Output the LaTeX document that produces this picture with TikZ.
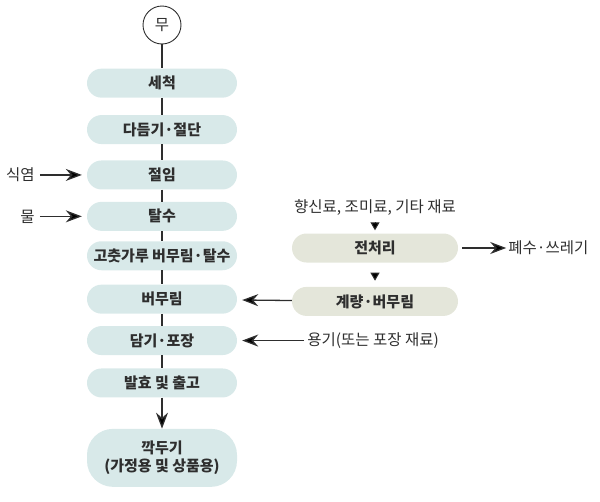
\documentclass[tikz,border=0pt]{standalone}
\usepackage{fontspec}
\setmainfont{Noto Sans CJK KR}
\usepackage{xcolor}
\usetikzlibrary{arrows.meta}
\usetikzlibrary{positioning}
\definecolor{stepblue}{HTML}{D8E9E9}
\definecolor{stepgray}{HTML}{E4E6DA}
\definecolor{lineink}{HTML}{2E2E2E}

\begin{document}
\begin{tikzpicture}[x=1pt,y=-1pt]
			\useasboundingbox (0,0) rectangle (600,501);
			\tikzstyle{every node}=[font=\fontsize{15.5}{17}\selectfont,text=lineink,inner sep=0pt]
			\tikzstyle{procbox}=[rounded corners=14.5pt,fill=stepblue,minimum width=150pt,minimum height=29pt,font=\fontsize{15}{18}\selectfont\bfseries]
			\tikzstyle{prepbox}=[procbox,fill=stepgray,minimum width=166pt]
			
			\node (mu) [draw=lineink,circle,line width=0.9pt,minimum size=38pt] at (162,25) {무};
			\node (wash) [procbox,below=24pt of mu] {세척};
			\node (trim) [procbox,below=17pt of wash] {다듬기·절단};
			\node (brine) [procbox,below=16pt of trim] {절임};
			\node (drain) [procbox,below=12pt of brine] {탈수};
			\node (season) [procbox,below=10pt of drain] {고춧가루 버무림·탈수};
			\node (mix) [procbox,below=14pt of season] {버무림};
			\node (pack) [procbox,below=12pt of mix] {담기·포장};
			\node (ferm) [procbox,below=13pt of pack] {발효 및 출고};
			\node (kkak) [procbox,rounded corners=26pt,minimum height=58pt,align=center,below=31pt of ferm] {깍두기\\(가정용 및 상품용)};
			
			\node (salt) [left=52pt of brine] {식염};
			\node (water) [left=52pt of drain] {물};
			
			\node (prep) [prepbox] at (375,248) {전처리};
			\node (mix2) [prepbox,below=24pt of prep] {계량·버무림};
			\node (spice) [above=18pt of prep] {향신료, 조미료, 기타 재료};
			\node (waste) [right=50pt of prep] {폐수·쓰레기};
			\node (cont) [right=70pt of pack] {용기(또는 포장 재료)};
			
			\path[-,draw=lineink,line width=1.1pt]
			(mu) edge (wash)
			(wash) edge (trim)
			(trim) edge (brine)
			(brine) edge (drain)
			(drain) edge (season)
			(season) edge (mix)
			(mix) edge (pack)
			(pack) edge (ferm);
			
			\path[-{Stealth[length=16pt,width=12pt]},draw=lineink,line width=1.3pt]
			(ferm) edge (kkak)
			(salt) edge[shorten <=5pt,shorten >=5pt] (brine)
			(water) edge[shorten <=5pt,shorten >=5pt] (drain)
			(prep) edge[shorten <=4pt,shorten >=2pt] (waste)
			(mix2) edge[shorten >=5pt] (mix)
			(cont) edge[shorten <=3pt,shorten >=5pt] (pack);
			
			\path[-{Triangle[length=8pt,width=9pt]},draw=lineink,line width=1pt]
			(spice) edge[shorten <=7pt,shorten >=3pt] (prep)
			(prep) edge[shorten <=10pt,shorten >=6pt] (mix2);
		\end{tikzpicture}
\end{document}
